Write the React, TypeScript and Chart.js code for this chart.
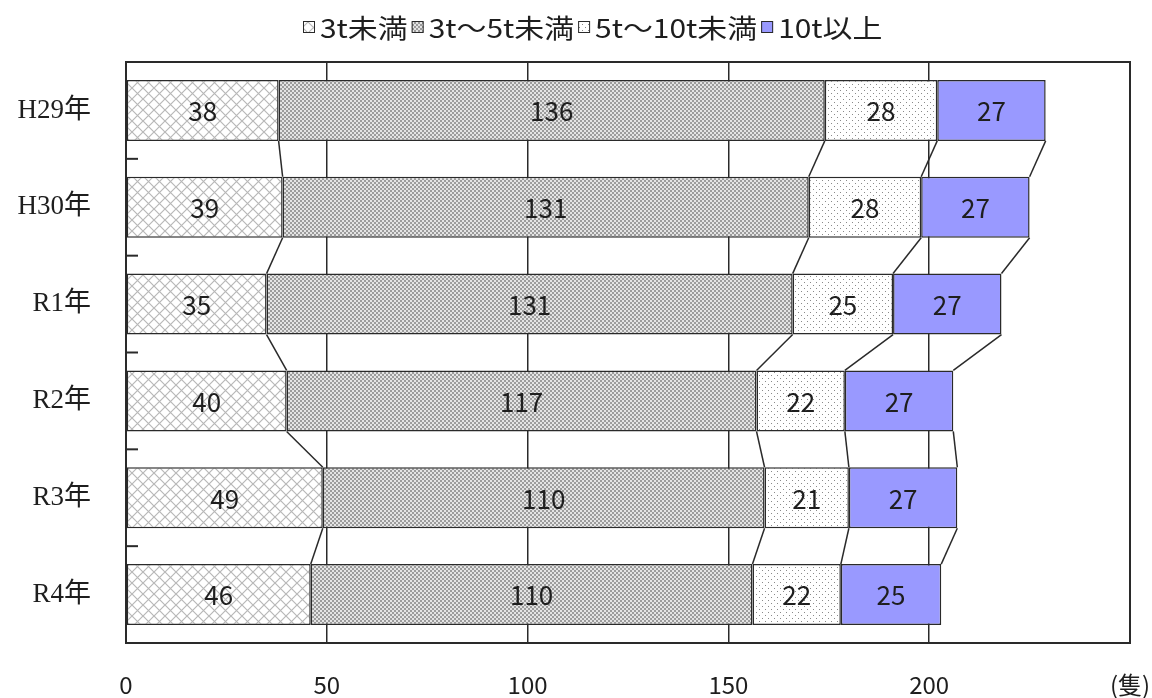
import React, { useEffect, useRef } from 'react';
import { Chart, registerables } from 'chart.js';

Chart.register(...registerables);

// Fishing vessels by tonnage class, per year
const years = ['H29年', 'H30年', 'R1年', 'R2年', 'R3年', 'R4年'];
const seriesNames = ['3t未満', '3t～5t未満', '5t～10t未満', '10t以上'];
const under3t = [38, 39, 35, 40, 49, 46];
const from3to5t = [136, 131, 131, 117, 110, 110];
const from5to10t = [28, 28, 25, 22, 21, 22];
const over10t = [27, 27, 27, 27, 27, 25];
const xTickValues = [0, 50, 100, 150, 200, 250];
const unitLabel = '(隻)';

const INK = '#2a2a2a';
const LABEL_FONT = '"Noto Sans CJK JP", "Noto Sans", sans-serif';

type PatternKind = 'cross' | 'dense' | 'sparse';

function makePattern(kind: PatternKind): CanvasPattern | string {
  const tile = document.createElement('canvas');
  const size = kind === 'cross' ? 11 : kind === 'dense' ? 4 : 6;
  tile.width = size;
  tile.height = size;
  const g = tile.getContext('2d');
  if (!g) return '#ccc';
  if (kind === 'cross') {
    g.fillStyle = '#ffffff';
    g.fillRect(0, 0, size, size);
    g.strokeStyle = '#b8b8b8';
    g.lineWidth = 1.2;
    g.beginPath();
    g.moveTo(-1, -1);
    g.lineTo(size + 1, size + 1);
    g.moveTo(size + 1, -1);
    g.lineTo(-1, size + 1);
    g.stroke();
  } else if (kind === 'dense') {
    g.fillStyle = '#e4e4e4';
    g.fillRect(0, 0, size, size);
    g.fillStyle = '#9c9c9c';
    g.fillRect(0, 0, 2, 2);
    g.fillRect(2, 2, 2, 2);
  } else {
    g.fillStyle = '#ffffff';
    g.fillRect(0, 0, size, size);
    g.fillStyle = '#8a8a8a';
    g.fillRect(0, 0, 1, 1);
    g.fillRect(3, 3, 1, 1);
  }
  const p = g.createPattern(tile, 'repeat');
  return p || '#ccc';
}

// Plot frame (top/right edges) and small inner ticks between year bands
const framePlugin = {
  id: 'frame',
  beforeDatasetsDraw(chart: any) {
    const { ctx, chartArea, scales } = chart;
    ctx.save();
    ctx.strokeStyle = INK;
    ctx.lineWidth = 2;
    ctx.strokeRect(chartArea.left, chartArea.top, chartArea.right - chartArea.left, chartArea.bottom - chartArea.top);
    const y = scales.y;
    for (let i = 0; i < years.length - 1; i++) {
      const yy = (y.getPixelForValue(i) + y.getPixelForValue(i + 1)) / 2;
      ctx.beginPath();
      ctx.moveTo(chartArea.left, yy);
      ctx.lineTo(chartArea.left + 12, yy);
      ctx.stroke();
    }
    ctx.restore();
  },
};

// Series lines joining segment ends of consecutive bars, plus value labels
const barDecorPlugin = {
  id: 'barDecor',
  afterDatasetsDraw(chart: any) {
    const { ctx } = chart;
    ctx.save();
    ctx.strokeStyle = INK;
    ctx.lineWidth = 1.5;
    chart.data.datasets.forEach((_: any, d: number) => {
      const meta = chart.getDatasetMeta(d);
      for (let j = 0; j < meta.data.length - 1; j++) {
        const a = meta.data[j].getProps(['x', 'y', 'height'], true);
        const b = meta.data[j + 1].getProps(['x', 'y', 'height'], true);
        ctx.beginPath();
        ctx.moveTo(a.x, a.y + a.height / 2);
        ctx.lineTo(b.x, b.y - b.height / 2);
        ctx.stroke();
      }
    });
    ctx.fillStyle = '#1e1e1e';
    ctx.font = `26px ${LABEL_FONT}`;
    ctx.textAlign = 'center';
    ctx.textBaseline = 'middle';
    chart.data.datasets.forEach((ds: any, d: number) => {
      const meta = chart.getDatasetMeta(d);
      meta.data.forEach((el: any, j: number) => {
        const p = el.getProps(['x', 'y', 'base'], true);
        ctx.fillText(String(ds.data[j]), (p.x + p.base) / 2, p.y + 1);
      });
    });
    ctx.restore();
  },
};

// Compact legend row above the plot
const legendPlugin = {
  id: 'compactLegend',
  afterDraw(chart: any) {
    const { ctx } = chart;
    const datasets = chart.data.datasets;
    ctx.save();
    ctx.font = `26px ${LABEL_FONT}`;
    ctx.textBaseline = 'middle';
    ctx.textAlign = 'left';
    const box = 12;
    const gapBoxText = 5;
    const gapItems = 4;
    const stretch = 1.15;
    const cy = 27;
    let x = 303;
    datasets.forEach((ds: any) => {
      ctx.fillStyle = ds.backgroundColor;
      ctx.fillRect(x, cy - box / 2, box, box);
      ctx.strokeStyle = INK;
      ctx.lineWidth = 1;
      ctx.strokeRect(x + 0.5, cy - box / 2 + 0.5, box - 1, box - 1);
      x += box + gapBoxText;
      ctx.save();
      ctx.translate(x, cy + 1);
      ctx.scale(stretch, 1);
      ctx.fillStyle = '#1e1e1e';
      ctx.fillText(ds.label, 0, 0);
      ctx.restore();
      x += ctx.measureText(ds.label).width * stretch + gapItems;
    });
    ctx.restore();
  },
};

export default function App() {
  const canvasRef = useRef<HTMLCanvasElement | null>(null);

  useEffect(() => {
    const canvas = canvasRef.current;
    if (!canvas) return;
    const fills = [makePattern('cross'), makePattern('dense'), makePattern('sparse'), '#9999ff'];
    const values = [under3t, from3to5t, from5to10t, over10t];

    const chart = new Chart(canvas, {
      type: 'bar',
      data: {
        labels: years,
        datasets: seriesNames.map((name, i) => ({
          label: name,
          data: values[i],
          backgroundColor: fills[i] as any,
          borderColor: INK,
          borderWidth: 1.5,
          borderSkipped: false,
          barPercentage: 0.63,
          categoryPercentage: 1,
        })),
      },
      options: {
        indexAxis: 'y',
        animation: false,
        responsive: true,
        maintainAspectRatio: false,
        layout: { padding: { top: 62, right: 22, left: 0, bottom: 0 } },
        plugins: {
          legend: { display: false },
          tooltip: { enabled: false },
        },
        scales: {
          x: {
            type: 'linear',
            stacked: true,
            min: xTickValues[0],
            max: xTickValues[xTickValues.length - 1],
            afterBuildTicks(scale: any) {
              scale.ticks = xTickValues.map((v) => ({ value: v }));
            },
            afterFit(scale: any) {
              scale.height = 55;
              scale.paddingLeft = 0;
              scale.paddingRight = 0;
            },
            ticks: {
              padding: 27,
              maxRotation: 0,
              autoSkip: false,
              color: '#1e1e1e',
              font: { size: 24, family: LABEL_FONT },
              callback: (v: any) => (v === xTickValues[xTickValues.length - 1] ? unitLabel : String(v)),
            },
            grid: { color: INK, lineWidth: 1.5, drawTicks: false },
            border: { display: true, color: INK, width: 2 },
          },
          y: {
            type: 'category',
            stacked: true,
            afterFit(scale: any) {
              scale.width = 126;
            },
            ticks: {
              padding: 35,
              color: '#1e1e1e',
              font: { size: 27, family: '"Liberation Serif", "Noto Sans CJK JP", serif' },
            },
            grid: { display: false, drawTicks: false },
            border: { display: true, color: INK, width: 2 },
          },
        },
      },
      plugins: [framePlugin, barDecorPlugin, legendPlugin],
    });
    return () => chart.destroy();
  }, []);

  return (
    <div style={{ position: 'absolute', left: 0, top: 0, width: 1152, height: 698, background: '#fff' }}>
      <canvas ref={canvasRef} />
    </div>
  );
}
